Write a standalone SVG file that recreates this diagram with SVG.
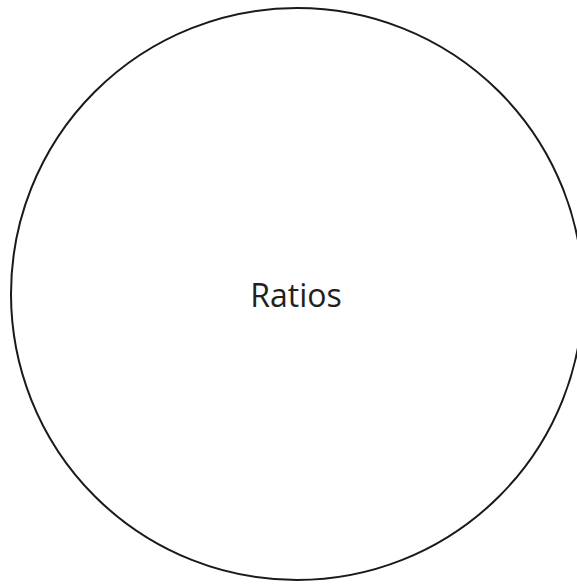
<svg xmlns="http://www.w3.org/2000/svg" width="577" height="584" viewBox="0 0 577 584">
<style>
.node-shape{fill:#fff;stroke:#1a1a1a;stroke-width:2}
.label{font-family:"Open Sans","Liberation Sans",sans-serif;font-size:32px;fill:#231f20;text-anchor:middle}
</style>
<rect width="577" height="584" fill="#fff"/>
<g id="connectors"></g>
<g id="ratios">
<circle class="node-shape" cx="297" cy="294" r="286"/>
<text class="label" x="296" y="307">Ratios</text>
</g>
</svg>
